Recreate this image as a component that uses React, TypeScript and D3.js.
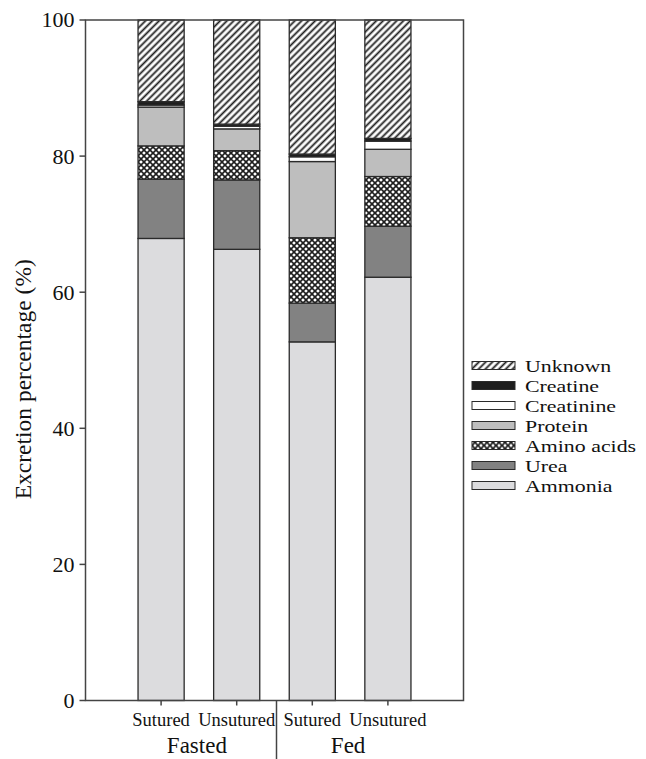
import * as d3 from 'd3';

// bars, left to right
const bars = ['Fasted-Sutured', 'Fasted-Unsutured', 'Fed-Sutured', 'Fed-Unsutured'];
const barLabels = ['Sutured', 'Unsutured', 'Sutured', 'Unsutured'];
const groups = ['Fasted', 'Fed'];

// excretion components (%), stacked bottom to top
const components = ['Ammonia', 'Urea', 'Amino acids', 'Protein', 'Creatinine', 'Creatine', 'Unknown'];
const ammonia = [67.9, 66.3, 52.7, 62.2];
const urea = [8.7, 10.2, 5.7, 7.5];
const aminoAcids = [4.9, 4.3, 9.6, 7.3];
const protein = [5.7, 3.2, 11.2, 4.0];
const creatinine = [0.3, 0.4, 0.7, 1.2];
const creatine = [0.5, 0.3, 0.4, 0.4];
const unknown = [12.0, 15.3, 19.7, 17.4];

const yTicks = [0, 20, 40, 60, 80, 100];

const W = 646;
const H = 759;
const frame = { left: 85.5, right: 463.5, top: 20, bottom: 700.5 };
const serif = '"Liberation Serif", "DejaVu Serif", serif';
const ink = '#2a2a2a';

const fills: Record<string, string> = {
  Ammonia: '#dcdcde',
  Urea: '#828282',
  'Amino acids': 'url(#crossHatch)',
  Protein: '#bebebe',
  Creatinine: '#ffffff',
  Creatine: '#1e1e1e',
  Unknown: 'url(#diagHatch)',
};

const series = [ammonia, urea, aminoAcids, protein, creatinine, creatine, unknown];
const table = bars.map((b, i) => {
  const row: Record<string, number | string> = { bar: b };
  components.forEach((c, j) => (row[c] = series[j][i]));
  return row;
});

export default function App() {
  const x = d3.scalePoint<string>().domain(bars).range([frame.left, frame.right]).padding(1);
  const y = d3.scaleLinear().domain([0, 100]).range([frame.bottom, frame.top]);
  const barW = x.step() * 0.61;

  const stacked = d3.stack<Record<string, number | string>>()
    .keys(components)
    .value((d, k) => d[k] as number)(table);

  const groupCenter = (gi: number) => ((x(bars[gi * 2]) ?? 0) + (x(bars[gi * 2 + 1]) ?? 0)) / 2;
  const divider = ((x(bars[1]) ?? 0) + (x(bars[2]) ?? 0)) / 2 + 2;

  // legend: top item is Unknown
  const legendItems = [...components].reverse();
  const legendY = d3.scalePoint<string>().domain(legendItems).range([365.5, 485.5]);

  return (
    <svg width={W} height={H} style={{ position: 'absolute', left: 0, top: 0, background: '#fff' }}>
      <defs>
        <pattern id="diagHatch" patternUnits="userSpaceOnUse" width={4.8} height={4.8} patternTransform="rotate(45)">
          <rect width={4.8} height={4.8} fill="#fff" />
          <line x1={2.4} y1={0} x2={2.4} y2={4.8} stroke="#1e1e1e" strokeWidth={1.8} />
        </pattern>
        <pattern id="crossHatch" patternUnits="userSpaceOnUse" width={6} height={6}>
          <rect width={6} height={6} fill="#fff" />
          <path d="M0,0 L6,6 M6,0 L0,6" stroke="#1e1e1e" strokeWidth={1.6} />
        </pattern>
      </defs>

      {/* stacked bars */}
      {stacked.map((layer) => (
        <g key={layer.key}>
          {layer.map((seg, i) => (
            <rect
              key={i}
              x={(x(bars[i]) ?? 0) - barW / 2}
              y={y(seg[1])}
              width={barW}
              height={y(seg[0]) - y(seg[1])}
              fill={fills[layer.key]}
              stroke={ink}
              strokeWidth={1.3}
            />
          ))}
        </g>
      ))}

      {/* frame */}
      <rect
        x={frame.left}
        y={frame.top}
        width={frame.right - frame.left}
        height={frame.bottom - frame.top}
        fill="none"
        stroke="#444"
        strokeWidth={1.5}
      />

      {/* y axis */}
      {yTicks.map((t) => (
        <g key={t} transform={`translate(${frame.left},${y(t)})`}>
          <line x1={-6} x2={0} stroke="#444" strokeWidth={1.5} />
          <text x={-11} dy="0.34em" textAnchor="end" fontFamily={serif} fontSize={22} fill="#111">
            {t}
          </text>
        </g>
      ))}
      <text
        transform={`translate(31,${(frame.top + frame.bottom) / 2 + 19}) rotate(-90)`}
        textAnchor="middle"
        fontFamily={serif}
        fontSize={23.5}
        fill="#111"
      >
        Excretion percentage (%)
      </text>

      {/* x axis */}
      {bars.map((b, i) => (
        <g key={b} transform={`translate(${x(b)},${frame.bottom})`}>
          <line y1={0} y2={5} stroke="#444" strokeWidth={1.5} />
          <text y={25.5} textAnchor="middle" fontFamily={serif} fontSize={18.5} fill="#111">
            {barLabels[i]}
          </text>
        </g>
      ))}
      <line x1={divider} x2={divider} y1={frame.bottom} y2={H} stroke="#444" strokeWidth={1.5} />
      {groups.map((g, gi) => (
        <text
          key={g}
          x={groupCenter(gi) - 2}
          y={753}
          textAnchor="middle"
          fontFamily={serif}
          fontSize={23}
          fill="#111"
        >
          {g}
        </text>
      ))}

      {/* legend: the reference type is set wide and tight */}
      {legendItems.map((c) => (
        <g key={c} transform={`translate(472,${legendY(c)})`}>
          <rect x={0} y={-4} width={43} height={8} fill={fills[c]} stroke={ink} strokeWidth={1} />
          <text
            transform="translate(53,6.5) scale(1.25,1)"
            fontFamily={serif}
            fontSize={17.5}
            fill="#111"
          >
            {c}
          </text>
        </g>
      ))}
    </svg>
  );
}
